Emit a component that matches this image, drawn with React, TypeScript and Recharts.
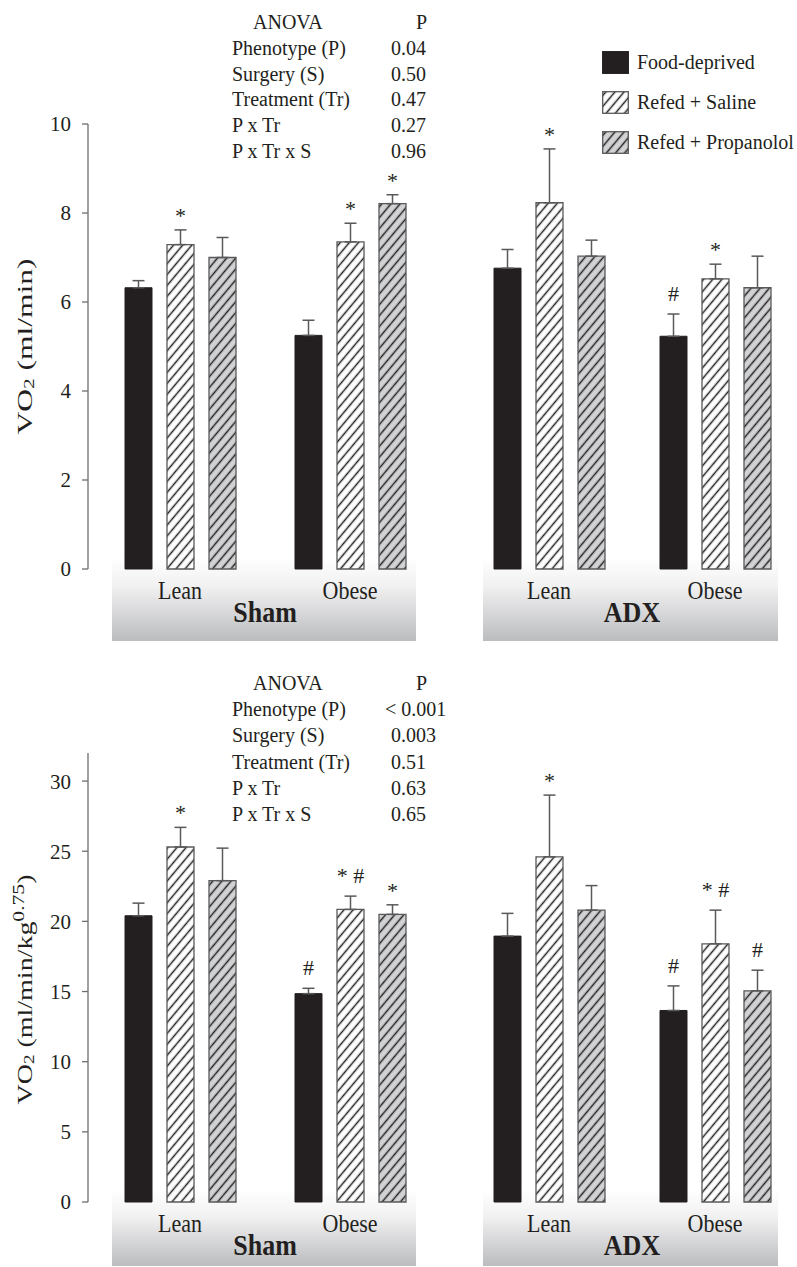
import React from 'react';
import { BarChart, Bar, XAxis, YAxis, ErrorBar, LabelList, Label, Legend } from 'recharts';

const FONT = '"Liberation Serif", "Times New Roman", serif';
const INK = '#231f20';
const EDGE = '#58595b';
const AXIS = '#6d6e71';

const phenotypes = ['Lean', 'Obese'];
const surgeries = ['Sham', 'ADX'];
const seriesNames = ['Food-deprived', 'Refed + Saline', 'Refed + Propanolol'];

// order of every array below: Sham Lean, Sham Obese, ADX Lean, ADX Obese
// upper panel: VO2 (ml/min)
const vo2Deprived = [6.32, 5.25, 6.76, 5.23];
const vo2DeprivedErr = [0.16, 0.34, 0.42, 0.5];
const vo2Saline = [7.29, 7.35, 8.23, 6.52];
const vo2SalineErr = [0.33, 0.42, 1.21, 0.33];
const vo2Propanolol = [7.0, 8.21, 7.03, 6.32];
const vo2PropanololErr = [0.45, 0.2, 0.36, 0.71];
const vo2DeprivedSig = ['', '', '', '#'];
const vo2SalineSig = ['*', '*', '*', '*'];
const vo2PropanololSig = ['', '*', '', ''];

// lower panel: VO2 (ml/min/kg0.75)
const massDeprived = [20.4, 14.85, 18.95, 13.65];
const massDeprivedErr = [0.9, 0.38, 1.62, 1.75];
const massSaline = [25.3, 20.85, 24.6, 18.4];
const massSalineErr = [1.4, 0.95, 4.4, 2.4];
const massPropanolol = [22.9, 20.5, 20.8, 15.05];
const massPropanololErr = [2.32, 0.68, 1.75, 1.47];
const massDeprivedSig = ['', '#', '', '#'];
const massSalineSig = ['*', '* #', '*', '* #'];
const massPropanololSig = ['', '*', '', '#'];

const vo2Ticks = [0, 2, 4, 6, 8, 10];
const massTicks = [0, 5, 10, 15, 20, 25, 30];

const anovaTerms = ['Phenotype (P)', 'Surgery (S)', 'Treatment (Tr)', 'P x Tr', 'P x Tr x S'];
const anovaPUpper = ['0.04', '0.50', '0.47', '0.27', '0.96'];
const anovaPLower = ['< 0.001', '0.003', '0.51', '0.63', '0.65'];

type Row = Record<string, any>;

const buildRows = (
  s: number,
  fd: number[], fdE: number[], sal: number[], salE: number[], pr: number[], prE: number[],
  fdS: string[], salS: string[], prS: string[]
): Row[] =>
  phenotypes.map((name, j) => {
    const i = s * 2 + j;
    return {
      name,
      fd: fd[i], fdErr: fdE[i], fdRange: [0, fdE[i]], fdSig: fdS[i],
      sal: sal[i], salErr: salE[i], salRange: [0, salE[i]], salSig: salS[i],
      pr: pr[i], prErr: prE[i], prRange: [0, prE[i]], prSig: prS[i],
    };
  });

// significance marks sit just above the error whisker
const makeSig = (rows: Row[], valKey: string, errKey: string) => (p: any) => {
  if (!p.value) return null;
  const row = rows[p.index];
  const errTop = p.y - (row[errKey] * p.height) / row[valKey];
  const lift = String(p.value).includes('#') ? 13 : 7;
  return (
    <text x={p.x + p.width / 2} y={errTop - lift} textAnchor="middle" fontSize={22} fill={INK}>
      {p.value}
    </text>
  );
};

const categoryTick = (p: any) => (
  <text transform={`translate(${p.x} ${p.y + 30}) scale(1 1.12)`} x={0} y={0} textAnchor="middle" fontSize={22} fill={INK}>
    {p.payload.value}
  </text>
);

const surgeryLabel = (name: string, padL: number, padR: number) => (p: any) => {
  const vb = p.viewBox || { x: 0, y: 0, width: 0 };
  const cx = vb.x + padL + (vb.width - padL - padR) / 2;
  return (
    <text transform={`translate(${cx} ${vb.y + 53}) scale(1 1.12)`} x={0} y={0} textAnchor="middle" fontSize={26} fontWeight="bold" fill={INK}>
      {name}
    </text>
  );
};

const yTitle = (upper: boolean) => (p: any) => {
  const vb = p.viewBox || { y: 0, height: 0 };
  const cx = 24;
  const cy = vb.y + vb.height / 2 + (upper ? 0 : 12);
  return (
    <text
      transform={`rotate(-90 ${cx} ${cy})`}
      x={cx}
      y={cy}
      textAnchor="middle"
      dominantBaseline="central"
      fontSize={22}
      fill={INK}
      textLength={upper ? 176 : 230}
      lengthAdjust="spacingAndGlyphs"
    >
      VO<tspan dy={5} fontSize={15}>2</tspan>
      {upper ? (
        <tspan dy={-5}> (ml/min)</tspan>
      ) : (
        <>
          <tspan dy={-5}> (ml/min/kg</tspan>
          <tspan dy={-6} fontSize={17}>0.75</tspan>
          <tspan dy={6}>)</tspan>
        </>
      )}
    </text>
  );
};

const swatchFills = [INK, 'url(#hatchWhite)', 'url(#hatchGrey)'];

const renderLegend = () => (
  <div style={{ fontFamily: FONT, fontSize: 20, color: INK }}>
    {seriesNames.map((n, i) => (
      <div key={n} style={{ display: 'flex', alignItems: 'center', height: 40 }}>
        <svg width={27} height={23} style={{ display: 'block' }}>
          <rect x={0.7} y={0.7} width={25.6} height={21.6} fill={swatchFills[i]} stroke={i === 0 ? INK : EDGE} strokeWidth={1.3} />
        </svg>
        <span style={{ marginLeft: 8, whiteSpace: 'nowrap' }}>{n}</span>
      </div>
    ))}
  </div>
);

function PatternDefs() {
  return (
    <svg width={0} height={0} style={{ position: 'absolute' }}>
      <defs>
        <pattern id="hatchWhite" patternUnits="userSpaceOnUse" width={7} height={7} patternTransform="rotate(40)">
          <rect width={7} height={7} fill="#ffffff" />
          <line x1={3.5} y1={0} x2={3.5} y2={7} stroke={INK} strokeWidth={1.5} />
        </pattern>
        <pattern id="hatchGrey" patternUnits="userSpaceOnUse" width={7} height={7} patternTransform="rotate(40)">
          <rect width={7} height={7} fill="#d1d2d4" />
          <line x1={3.5} y1={0} x2={3.5} y2={7} stroke={INK} strokeWidth={1.5} />
        </pattern>
      </defs>
    </svg>
  );
}

function Band({ left, top, width, height }: { left: number; top: number; width: number; height: number }) {
  return (
    <div
      style={{
        position: 'absolute', left, top, width, height,
        background: 'linear-gradient(to bottom, #ffffff 0%, #f1f1f2 35%, #bbbcbe 100%)',
      }}
    />
  );
}

function AnovaTable({ start, step, pValues }: { start: number; step: number; pValues: string[] }) {
  return (
    <svg width={797} height={200} style={{ position: 'absolute', left: 0, top: start - 40, pointerEvents: 'none' }}>
      <g fontSize={20} fill={INK} fontFamily={FONT}>
        <text x={253} y={40}>ANOVA</text>
        <text x={427} y={40} textAnchor="end">P</text>
        {anovaTerms.map((t, k) => (
          <React.Fragment key={t}>
            <text x={232} y={40 + (k + 1) * step}>{t}</text>
            <text x={pValues[k].startsWith('<') ? 385 : 391} y={40 + (k + 1) * step}>{pValues[k]}</text>
          </React.Fragment>
        ))}
      </g>
    </svg>
  );
}

type ChartProps = {
  rows: Row[];
  surgery: string;
  left: number;
  top: number;
  width: number;
  height: number;
  marginTop: number;
  marginBottom: number;
  padL: number;
  padR: number;
  domain: [number, number];
  ticks: number[];
  showY: boolean;
  upper: boolean;
  legend?: boolean;
};

function GroupChart(c: ChartProps) {
  return (
    <div style={{ position: 'absolute', left: c.left, top: c.top }}>
      <BarChart
        width={c.width}
        height={c.height}
        data={c.rows}
        margin={{ top: c.marginTop, right: 0, bottom: c.marginBottom, left: 0 }}
        barSize={27}
        barGap={15}
      >
        <XAxis
          dataKey="name"
          height={60}
          axisLine={false}
          tickLine={false}
          tickSize={0}
          tickMargin={0}
          interval={0}
          padding={{ left: c.padL, right: c.padR }}
          tick={categoryTick}
          label={<Label content={surgeryLabel(c.surgery, c.padL, c.padR)} />}
        />
        <YAxis
          hide={!c.showY}
          width={88}
          domain={c.domain}
          ticks={c.ticks}
          interval={0}
          axisLine={{ stroke: AXIS, strokeWidth: 1.3 }}
          tickLine={{ stroke: AXIS, strokeWidth: 1.3 }}
          tickSize={6}
          tickMargin={11}
          tick={{ fontSize: 21, fill: INK }}
          label={c.showY ? <Label content={yTitle(c.upper)} /> : undefined}
        />
        {c.legend && (
          <Legend
            layout="vertical"
            align="center"
            verticalAlign="middle"
            content={renderLegend}
            wrapperStyle={{ left: 162, top: 42, width: 200, height: 120 }}
          />
        )}
        <Bar dataKey="fd" name={seriesNames[0]} fill={INK} stroke={INK} strokeWidth={1} isAnimationActive={false}>
          <ErrorBar dataKey="fdRange" direction="y" width={6} stroke={EDGE} strokeWidth={1.5} isAnimationActive={false} />
          <LabelList dataKey="fdSig" content={makeSig(c.rows, 'fd', 'fdErr')} />
        </Bar>
        <Bar dataKey="sal" name={seriesNames[1]} fill="url(#hatchWhite)" stroke={EDGE} strokeWidth={1.3} isAnimationActive={false}>
          <ErrorBar dataKey="salRange" direction="y" width={6} stroke={EDGE} strokeWidth={1.5} isAnimationActive={false} />
          <LabelList dataKey="salSig" content={makeSig(c.rows, 'sal', 'salErr')} />
        </Bar>
        <Bar dataKey="pr" name={seriesNames[2]} fill="url(#hatchGrey)" stroke={EDGE} strokeWidth={1.3} isAnimationActive={false}>
          <ErrorBar dataKey="prRange" direction="y" width={6} stroke={EDGE} strokeWidth={1.5} isAnimationActive={false} />
          <LabelList dataKey="prSig" content={makeSig(c.rows, 'pr', 'prErr')} />
        </Bar>
      </BarChart>
    </div>
  );
}

const upperRows = surgeries.map((_, s) =>
  buildRows(s, vo2Deprived, vo2DeprivedErr, vo2Saline, vo2SalineErr, vo2Propanolol, vo2PropanololErr,
    vo2DeprivedSig, vo2SalineSig, vo2PropanololSig)
);
const lowerRows = surgeries.map((_, s) =>
  buildRows(s, massDeprived, massDeprivedErr, massSaline, massSalineErr, massPropanolol, massPropanololErr,
    massDeprivedSig, massSalineSig, massPropanololSig)
);

export default function App() {
  return (
    <div
      style={{
        position: 'absolute', left: 0, top: 0, width: 797, height: 1267,
        overflow: 'hidden', background: '#ffffff', fontFamily: FONT, color: INK,
      }}
    >
      <PatternDefs />
      <Band left={112} top={557} width={304} height={84} />
      <Band left={483} top={557} width={295} height={84} />
      <Band left={112} top={1190} width={304} height={76} />
      <Band left={483} top={1190} width={295} height={76} />

      <AnovaTable start={29} step={25.8} pValues={anovaPUpper} />
      <AnovaTable start={690} step={26.2} pValues={anovaPLower} />

      <GroupChart rows={upperRows[0]} surgery={surgeries[0]} left={0} top={0} width={440} height={660}
        marginTop={124} marginBottom={31} padL={7} padR={5} domain={[0, 10]} ticks={vo2Ticks} showY upper />
      <GroupChart rows={upperRows[1]} surgery={surgeries[1]} left={440} top={0} width={358} height={660}
        marginTop={124} marginBottom={31} padL={26} padR={0} domain={[0, 10]} ticks={vo2Ticks} showY={false} upper legend />
      <GroupChart rows={lowerRows[0]} surgery={surgeries[0]} left={0} top={650} width={440} height={617}
        marginTop={103} marginBottom={5} padL={7} padR={5} domain={[0, 32]} ticks={massTicks} showY upper={false} />
      <GroupChart rows={lowerRows[1]} surgery={surgeries[1]} left={440} top={650} width={358} height={617}
        marginTop={103} marginBottom={5} padL={26} padR={0} domain={[0, 32]} ticks={massTicks} showY={false} upper={false} />
    </div>
  );
}
